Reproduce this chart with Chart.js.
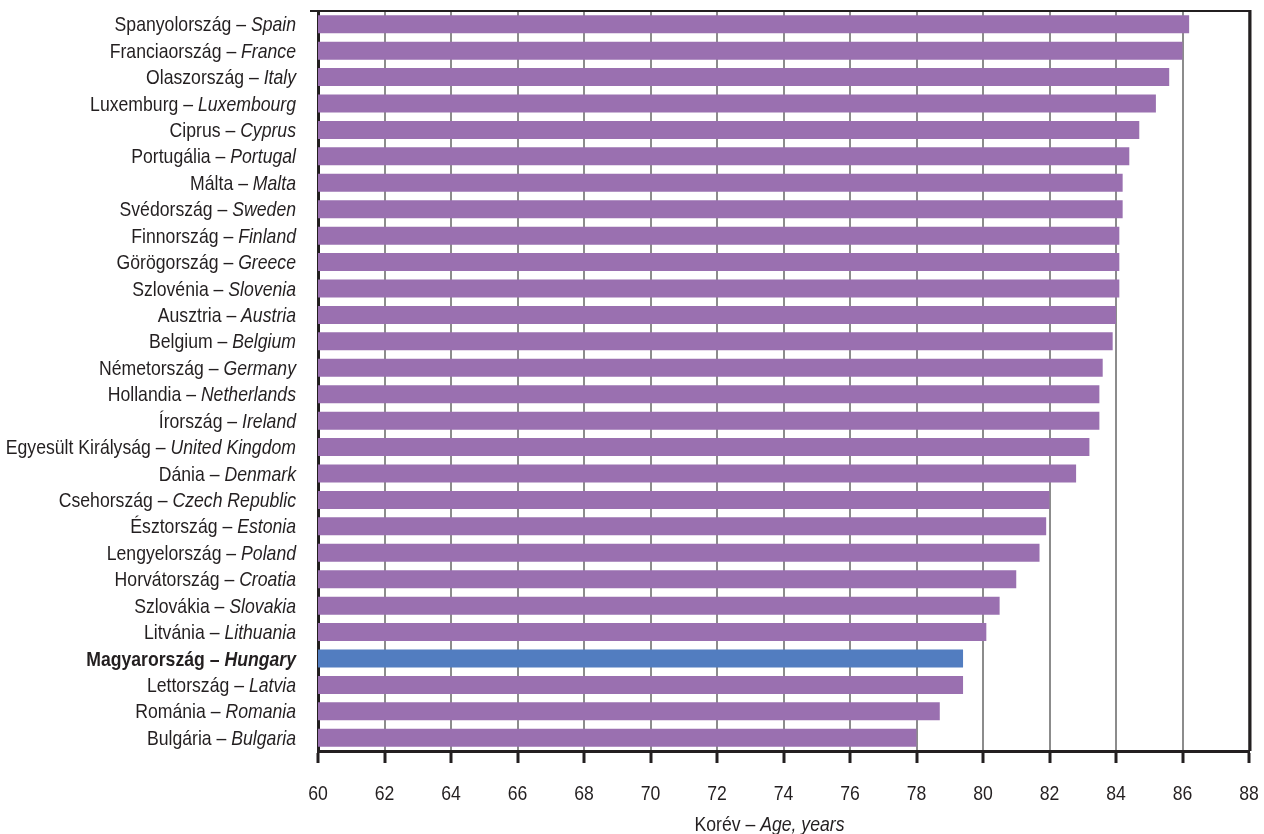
<!DOCTYPE html>
<html>
<head>
<meta charset="utf-8">
<script src="https://cdn.jsdelivr.net/npm/chart.js@4.4.1/dist/chart.umd.min.js"></script>
<style>
  html, body { margin: 0; padding: 0; background: #ffffff; }
  #wrap { width: 1264px; height: 834px; position: relative; }
</style>
</head>
<body>
<div id="wrap"><canvas id="c"></canvas></div>
<script>
// ---- data ----
const huNames = ["Spanyolország", "Franciaország", "Olaszország", "Luxemburg", "Ciprus", "Portugália", "Málta", "Svédország", "Finnország", "Görögország", "Szlovénia", "Ausztria", "Belgium", "Németország", "Hollandia", "Írország", "Egyesült Királyság", "Dánia", "Csehország", "Észtország", "Lengyelország", "Horvátország", "Szlovákia", "Litvánia", "Magyarország", "Lettország", "Románia", "Bulgária"];
const enNames = ["Spain", "France", "Italy", "Luxembourg", "Cyprus", "Portugal", "Malta", "Sweden", "Finland", "Greece", "Slovenia", "Austria", "Belgium", "Germany", "Netherlands", "Ireland", "United Kingdom", "Denmark", "Czech Republic", "Estonia", "Poland", "Croatia", "Slovakia", "Lithuania", "Hungary", "Latvia", "Romania", "Bulgaria"];
const lifeExpectancy = [86.2, 86.0, 85.6, 85.2, 84.7, 84.4, 84.2, 84.2, 84.1, 84.1, 84.1, 84.0, 83.9, 83.6, 83.5, 83.5, 83.2, 82.8, 82.0, 81.9, 81.7, 81.0, 80.5, 80.1, 79.4, 79.4, 78.7, 78.0];
const highlight = "Hungary";
const xMin = 60, xMax = 88, xStep = 2;
const axisTitleHu = "Korév – ";
const axisTitleEn = "Age, years";

const FONT = '"Liberation Sans", Arial, sans-serif';
const FS = 21;        // font size
const SQ = 0.84;      // horizontal condensing (narrow face)
const TEXT = '#231f20';
const PURPLE = '#9a70b0';
const BLUE = '#527dc0';

const barColors = enNames.map(n => n === highlight ? BLUE : PURPLE);

// draw text condensed horizontally; align: 'left' | 'right' | 'center'
function narrowText(ctx, str, x, y, align) {
  const w = ctx.measureText(str).width * SQ;
  let sx = x;
  if (align === 'right') sx = x - w;
  else if (align === 'center') sx = x - w / 2;
  ctx.save();
  ctx.translate(sx, y);
  ctx.scale(SQ, 1);
  ctx.textAlign = 'left';
  ctx.fillText(str, 0, 0);
  ctx.restore();
  return w;
}
function narrowWidth(ctx, str) { return ctx.measureText(str).width * SQ; }

const labelPlugin = {
  id: 'labelPlugin',
  afterDraw(chart) {
    const ctx = chart.ctx;
    const y = chart.scales.y;
    const x = chart.scales.x;
    const area = chart.chartArea;
    ctx.save();
    ctx.fillStyle = TEXT;
    ctx.textBaseline = 'alphabetic';
    // category labels (mixed upright / italic)
    const rightX = area.left - 22;
    huNames.forEach((hu, i) => {
      const py = y.getPixelForValue(i) + 7;
      const bold = enNames[i] === highlight ? 'bold ' : '';
      ctx.font = 'italic ' + bold + FS + 'px ' + FONT;
      const w = narrowText(ctx, enNames[i], rightX, py, 'right');
      ctx.font = bold + FS + 'px ' + FONT;
      narrowText(ctx, hu + ' – ', rightX - w, py, 'right');
    });
    // x tick labels
    ctx.font = FS + 'px ' + FONT;
    x.ticks.forEach(t => {
      narrowText(ctx, String(t.value), x.getPixelForValue(t.value), 800, 'center');
    });
    // axis title
    ctx.font = FS + 'px ' + FONT;
    const w1 = narrowWidth(ctx, axisTitleHu);
    ctx.font = 'italic ' + FS + 'px ' + FONT;
    const w2 = narrowWidth(ctx, axisTitleEn);
    const cx = (area.left + area.right) / 2 - 14;
    const sx = cx - (w1 + w2) / 2;
    const by = 831;
    ctx.font = FS + 'px ' + FONT;
    narrowText(ctx, axisTitleHu, sx, by, 'left');
    ctx.font = 'italic ' + FS + 'px ' + FONT;
    narrowText(ctx, axisTitleEn, sx + w1, by, 'left');
    // frame: top and right border
    ctx.strokeStyle = TEXT;
    ctx.lineWidth = 2;
    ctx.beginPath();
    ctx.moveTo(area.left - 8, area.top);
    ctx.lineTo(area.right + 1, area.top);
    ctx.stroke();
    ctx.lineWidth = 3;
    ctx.beginPath();
    ctx.moveTo(area.right + 1, area.top - 1);
    ctx.lineTo(area.right + 1, area.bottom);
    ctx.stroke();
    ctx.restore();
  }
};

new Chart(document.getElementById('c'), {
  type: 'bar',
  data: {
    labels: enNames,
    datasets: [{
      data: lifeExpectancy,
      backgroundColor: barColors,
      borderWidth: 0,
      barPercentage: 0.68,
      categoryPercentage: 1.0
    }]
  },
  options: {
    indexAxis: 'y',
    responsive: true,
    maintainAspectRatio: false,
    animation: false,
    layout: { padding: { top: 11, right: 15, left: 0, bottom: 0 } },
    plugins: { legend: { display: false }, tooltip: { enabled: false } },
    scales: {
      x: {
        type: 'linear',
        position: 'bottom',
        min: xMin,
        max: xMax,
        ticks: { stepSize: xStep, display: false },
        grid: {
          color: '#8c8c8c',
          lineWidth: 2,
          drawTicks: true,
          tickLength: 12,
          tickColor: TEXT,
          tickWidth: 3
        },
        border: { display: true, color: TEXT, width: 3 },
        afterFit(scale) { scale.height = 83; }
      },
      y: {
        type: 'category',
        ticks: { display: false },
        grid: { display: false },
        border: { display: true, color: TEXT, width: 3 },
        afterFit(scale) { scale.width = 318; }
      }
    }
  },
  plugins: [labelPlugin]
});
</script>
</body>
</html>
